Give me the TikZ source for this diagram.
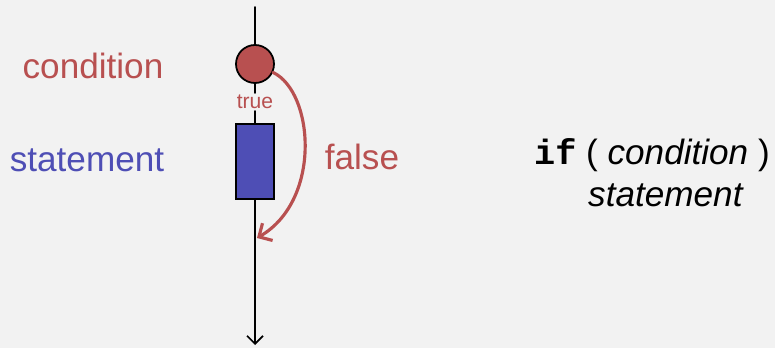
\documentclass[tikz,border=0pt]{standalone}
\usepackage{fontspec}
\setmainfont{Liberation Sans}
\setmonofont{Liberation Mono}
\usepackage{tikz}
\usetikzlibrary{arrows.meta}
\usepackage{xcolor}
\definecolor{condred}{RGB}{184,80,80}
\definecolor{stmtblue}{RGB}{78,78,181}
\definecolor{bg}{RGB}{242,242,242}

\begin{document}
\begin{tikzpicture}[x=0.02cm,y=-0.02cm,font=\fontsize{20}{24}\selectfont,line cap=round,
  flow/.style={draw=black,line width=1pt},
  condnode/.style={circle,draw=black,line width=1pt,fill=condred,minimum size=0.76cm,inner sep=0pt},
  stmtnode/.style={rectangle,draw=black,line width=1pt,fill=stmtblue,minimum width=0.76cm,minimum height=1.5cm,inner sep=0pt}]
\fill[bg] (0,0) rectangle (775,348);
\useasboundingbox (0,0) rectangle (775,348);
% flow chart
\coordinate (top) at (255,7);
\coordinate (bot) at (255,345);
\coordinate (join) at (257,238);
\node[condnode] (cond) at (255,64) {};
\node[fill=bg,inner sep=1pt,text=condred,font=\fontsize{12}{14}\selectfont] (truelbl) at (255,102) {true};
\node[stmtnode] (stmt) at (255,161.5) {};
\draw[flow] (top) -- (cond);
\draw[flow] (cond) -- (truelbl);
\draw[flow] (truelbl) -- (stmt);
\draw[flow,-{Straight Barb[length=1.6mm,width=3.2mm]}] (stmt) -- (bot);
\draw[condred,line width=1.8pt,-{Straight Barb[length=2mm,width=4mm]}] (cond.-25) .. controls (314,92) and (322,200) .. (join);
\node[text=condred] (falselbl) at (362,157) {false};
% labels
\node[text=condred] (condlbl) at (93,66) {condition};
\node[text=stmtblue] (stmtlbl) at (87,160) {statement};
% code
\node (ifline) at (652,155) {\texttt{\bfseries if} ( \textit{condition} )};
\node (bodyline) at (666,195) {\textit{statement}};
\end{tikzpicture}
\end{document}
